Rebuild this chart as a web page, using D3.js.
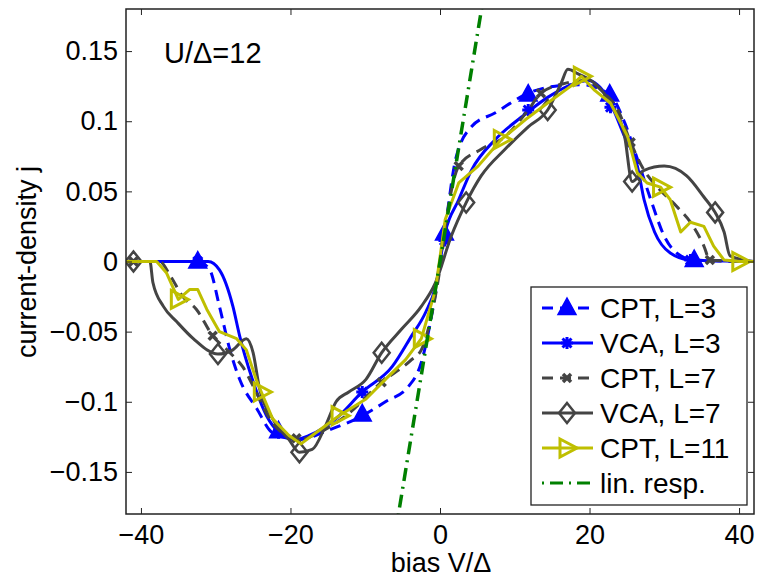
<!DOCTYPE html>
<html>
<head>
<meta charset="utf-8">
<script src="https://cdn.jsdelivr.net/npm/d3@7"></script>
<style>
  body { margin: 0; background: #fff; }
  svg text { font-family: "Liberation Sans", Arial, Helvetica, sans-serif; fill: #000; }
</style>
</head>
<body>
<svg id="chart" width="759" height="579"></svg>
<script>
// CPT, L=3 (blue dashed)
const cpt3V = [-42, -32.4, -30.8, -29.5, -28.1, -26.8, -24.5, -22.4, -18.8, -15.3, -10.4, -7.3, -4.2, -2.5, -1, 0.6, 2.1, 4.2, 7.4, 11.8, 15.4, 18.9, 22.7, 24.7, 26.4, 28.2, 30, 32.2, 34, 42];
const cpt3J = [0, 0, -0.006, -0.032, -0.063, -0.084, -0.105, -0.122, -0.127, -0.121, -0.110, -0.100, -0.089, -0.072, -0.035, 0.020, 0.073, 0.096, 0.106, 0.120, 0.125, 0.126, 0.119, 0.099, 0.073, 0.044, 0.018, 0.004, 0.001, 0];
const cpt3MarkV = [-32.4, -21.6, -10.4, 0.6, 11.8, 22.7, 34];
const cpt3MarkJ = [0, -0.121, -0.109, 0.020, 0.119, 0.119, 0.001];

// VCA, L=3 (blue solid)
const vca3V = [-42, -31, -29.5, -27.7, -26.8, -25.1, -23.2, -21.5, -19.3, -17.5, -13.9, -10.4, -6.4, -3.8, -1.9, -0.6, 0.7, 2.5, 4.2, 7.4, 10.9, 14.4, 18, 19.8, 22.4, 24.7, 26.4, 27.3, 28.7, 30.8, 33.5, 42];
const vca3J = [0, 0, -0.006, -0.032, -0.053, -0.084, -0.110, -0.122, -0.127, -0.124, -0.112, -0.093, -0.075, -0.053, -0.036, -0.018, 0.021, 0.044, 0.065, 0.087, 0.103, 0.117, 0.127, 0.129, 0.117, 0.089, 0.068, 0.044, 0.021, 0.006, 0.001, 0];
const vca3MarkV = [-32.4, -21.6, -10.4, 0.6, 11.8, 22.8, 33.5];
const vca3MarkJ = [0, -0.122, -0.093, 0.015, 0.108, 0.110, 0.001];

// CPT, L=7 (grey dashed)
const cpt7V = [-42, -37.5, -36.1, -34.4, -32.6, -30.4, -28.1, -26.4, -24.6, -22.8, -20.6, -18.8, -16.2, -12.6, -7.8, -3.8, -2.5, -1, 0, 1, 2.5, 5.5, 8.7, 11.8, 13.5, 16.7, 19.4, 22, 23.8, 25.5, 27.3, 29.1, 31.7, 33.5, 35.3, 36.1, 42];
const cpt7J = [0, 0, -0.010, -0.025, -0.034, -0.053, -0.065, -0.075, -0.093, -0.112, -0.124, -0.127, -0.122, -0.110, -0.086, -0.070, -0.063, -0.035, -0.005, 0.035, 0.068, 0.080, 0.089, 0.108, 0.120, 0.127, 0.129, 0.120, 0.108, 0.085, 0.065, 0.053, 0.039, 0.028, 0.011, 0.001, 0];
const cpt7MarkV = [-41, -30.4, -19.2, -7.8, 2.5, 13.5, 25.5, 36.1];
const cpt7MarkJ = [0, -0.053, -0.126, -0.086, 0.068, 0.120, 0.085, 0.001];

// VCA, L=7 (grey solid)
const vca7V = [-42, -38.8, -38.4, -37, -35.2, -33, -29.7, -27.7, -25.9, -25, -24.2, -22.4, -20.2, -18.8, -17.1, -15.3, -13.9, -12.2, -9.9, -7.8, -5.1, -2.5, -0.6, 1.5, 3.5, 5.5, 8.7, 11.8, 14.4, 16.2, 17.1, 18.4, 20.7, 22.8, 24.7, 25.7, 27.3, 30, 33, 35.3, 36.8, 38, 38.8, 42];
const vca7J = [0, 0, -0.015, -0.032, -0.043, -0.055, -0.066, -0.063, -0.055, -0.065, -0.089, -0.112, -0.127, -0.136, -0.134, -0.117, -0.100, -0.093, -0.084, -0.065, -0.048, -0.032, -0.015, 0.018, 0.042, 0.061, 0.080, 0.096, 0.108, 0.127, 0.137, 0.134, 0.127, 0.113, 0.089, 0.057, 0.065, 0.068, 0.061, 0.046, 0.035, 0.021, 0.004, 0];
const vca7MarkV = [-41, -29.7, -18.8, -7.8, 3.5, 14.4, 25.7, 36.8];
const vca7MarkJ = [0, -0.066, -0.136, -0.065, 0.042, 0.108, 0.057, 0.035];

// CPT, L=11 (olive solid)
const cpt11V = [-42, -37.9, -36.6, -35, -33.5, -32.4, -31.2, -29.5, -27.2, -25.9, -24.6, -23.9, -22.4, -20.2, -18.6, -17.1, -13.5, -9.9, -7.3, -4.6, -2.5, -0.6, 0.7, 2.5, 5.1, 8.2, 11.4, 14.4, 17.5, 18.9, 20.7, 22.8, 25.1, 26.4, 27.7, 29.5, 30.8, 32.2, 33.5, 35.3, 36.6, 38, 40.1, 42];
const cpt11J = [0, 0, -0.008, -0.027, -0.020, -0.020, -0.034, -0.050, -0.055, -0.063, -0.084, -0.093, -0.112, -0.124, -0.130, -0.124, -0.110, -0.098, -0.084, -0.070, -0.055, -0.020, 0.030, 0.056, 0.068, 0.087, 0.101, 0.113, 0.125, 0.132, 0.122, 0.113, 0.089, 0.063, 0.056, 0.053, 0.044, 0.021, 0.028, 0.025, 0.011, 0.001, 0, 0];
const cpt11MarkV = [-35, -23.9, -13.5, -2.5, 8.2, 18.9, 29.5, 40.1];
const cpt11MarkJ = [-0.027, -0.093, -0.110, -0.055, 0.087, 0.132, 0.053, 0];

// linear response
const linV = [-6, 6];
const linJ = [-0.1944, 0.1944];

const xTicks = [-40, -20, 0, 20, 40];
const yTicks = [-0.15, -0.1, -0.05, 0, 0.05, 0.1, 0.15];
const legendLabels = ["CPT, L=3", "VCA, L=3", "CPT, L=7", "VCA, L=7", "CPT, L=11", "lin. resp."];

const svg = d3.select('#chart');
const pLeft = 126, pRight = 754, pTop = 9, pBottom = 514;

const x = d3.scaleLinear().domain([-42, 42]).range([pLeft, pRight]);
const y = d3.scaleLinear().domain([-0.18, 0.18]).range([pBottom, pTop]);

const blue = "#0000ff", grey = "#444444", olive = "#bfbf00", green = "#008000";

svg.append("defs").append("clipPath").attr("id", "plotclip")
    .append("rect").attr("x", pLeft).attr("y", pTop)
    .attr("width", pRight - pLeft).attr("height", pBottom - pTop);

// marker drawing
function drawMarker(g, type, color) {
    if (type === "triUp") {
        g.append("path").attr("d", "M0,-10L9,6.5L-9,6.5Z")
            .style("fill", color).style("stroke", color).style("stroke-width", 1.5);
    } else if (type === "star") {
        g.append("path").attr("d", "M-6,0H6M0,-6V6M-4.5,-4.5L4.5,4.5M-4.5,4.5L4.5,-4.5")
            .style("stroke", color).style("stroke-width", 3).style("fill", "none");
    } else if (type === "cross") {
        g.append("path").attr("d", "M-4,-4L4,4M-4,4L4,-4")
            .style("stroke", color).style("stroke-width", 3.5).style("fill", "none");
    } else if (type === "diamond") {
        g.append("path").attr("d", "M0,-10L8,0L0,10L-8,0Z")
            .style("stroke", color).style("stroke-width", 2.5).style("fill", "none");
    } else if (type === "triRight") {
        g.append("path").attr("d", "M-7,-9L10,0L-7,9Z")
            .style("stroke", color).style("stroke-width", 3).style("fill", "none");
    }
}

const series = [
    { vs: cpt3V, js: cpt3J, mv: cpt3MarkV, mj: cpt3MarkJ, color: blue, dash: "11,7", marker: "triUp", curve: d3.curveMonotoneX },
    { vs: vca3V, js: vca3J, mv: vca3MarkV, mj: vca3MarkJ, color: blue, dash: null, marker: "star", curve: d3.curveMonotoneX },
    { vs: cpt7V, js: cpt7J, mv: cpt7MarkV, mj: cpt7MarkJ, color: grey, dash: "11,7", marker: "cross", curve: d3.curveMonotoneX },
    { vs: vca7V, js: vca7J, mv: vca7MarkV, mj: vca7MarkJ, color: grey, dash: null, marker: "diamond", curve: d3.curveMonotoneX },
    { vs: cpt11V, js: cpt11J, mv: cpt11MarkV, mj: cpt11MarkJ, color: olive, dash: null, marker: "triRight", curve: d3.curveLinear },
];

const plot = svg.append("g").attr("clip-path", "url(#plotclip)");

series.forEach(s => {
    const pts = s.vs.map((v, i) => [v, s.js[i]]);
    const line = d3.line().x(d => x(d[0])).y(d => y(d[1])).curve(s.curve);
    plot.append("path").datum(pts)
        .attr("d", line)
        .style("fill", "none")
        .style("stroke", s.color)
        .style("stroke-width", 3)
        .style("stroke-linejoin", "round")
        .style("stroke-dasharray", s.dash);
    s.mv.forEach((v, i) => {
        const g = plot.append("g").attr("transform", `translate(${x(v)},${y(s.mj[i])})`);
        drawMarker(g, s.marker, s.color);
    });
});

// linear response line
plot.append("path")
    .datum(linV.map((v, i) => [v, linJ[i]]))
    .attr("d", d3.line().x(d => x(d[0])).y(d => y(d[1])))
    .style("fill", "none")
    .style("stroke", green)
    .style("stroke-width", 3.5)
    .style("stroke-dasharray", "13,6,2,6");

// axes (MATLAB-style box with inward ticks)
const fmt = d3.format("~g");
svg.append("g").attr("transform", `translate(0,${pBottom})`)
    .call(d3.axisBottom(x).tickValues(xTicks).tickSize(-6).tickPadding(11).tickFormat(fmt));
svg.append("g").attr("transform", `translate(${pLeft},0)`)
    .call(d3.axisLeft(y).tickValues(yTicks).tickSize(-6).tickPadding(8).tickFormat(fmt));
svg.append("g").attr("transform", `translate(0,${pTop})`)
    .call(d3.axisTop(x).tickValues(xTicks).tickSize(-6).tickFormat(""));
svg.append("g").attr("transform", `translate(${pRight},0)`)
    .call(d3.axisRight(y).tickValues(yTicks).tickSize(-6).tickFormat(""));

svg.selectAll(".domain").remove();
svg.selectAll(".tick line").style("stroke", "#222").style("stroke-width", 1);
svg.selectAll(".tick text").style("font-size", "27px").style("font-family", "'Liberation Sans', Arial, sans-serif").attr("fill", "#000");

svg.append("rect").attr("x", pLeft).attr("y", pTop)
    .attr("width", pRight - pLeft).attr("height", pBottom - pTop)
    .style("fill", "none").style("stroke", "#222").style("stroke-width", 1.5);

// axis labels
svg.append("text").attr("x", 441).attr("y", 572)
    .attr("text-anchor", "middle").style("font-size", "27px")
    .text("bias V/Δ");
svg.append("text").attr("transform", "translate(36,262) rotate(-90)")
    .attr("text-anchor", "middle").style("font-size", "27px")
    .text("current-density j");

svg.append("text").attr("x", 164).attr("y", 63)
    .style("font-size", "29px").text("U/Δ=12");

// legend
const lg = svg.append("g");
lg.append("rect").attr("x", 531).attr("y", 287).attr("width", 216).attr("height", 218)
    .style("fill", "#fff").style("stroke", "#222").style("stroke-width", 1.3);

const legendStyles = series.map(s => ({ color: s.color, dash: s.dash, marker: s.marker }))
    .concat([{ color: green, dash: "2,6,13,6", marker: null }]);

legendLabels.forEach((label, i) => {
    const ly = 308 + i * 35;
    lg.append("line").attr("x1", 542).attr("x2", 593).attr("y1", ly).attr("y2", ly)
        .style("stroke", legendStyles[i].color).style("stroke-width", 3)
        .style("stroke-dasharray", legendStyles[i].dash);
    if (legendStyles[i].marker) {
        const g = lg.append("g").attr("transform", `translate(567,${ly})`);
        drawMarker(g, legendStyles[i].marker, legendStyles[i].color);
    }
    lg.append("text").attr("x", 600).attr("y", ly + 10)
        .style("font-size", "28px").text(label);
});
</script>
</body>
</html>
